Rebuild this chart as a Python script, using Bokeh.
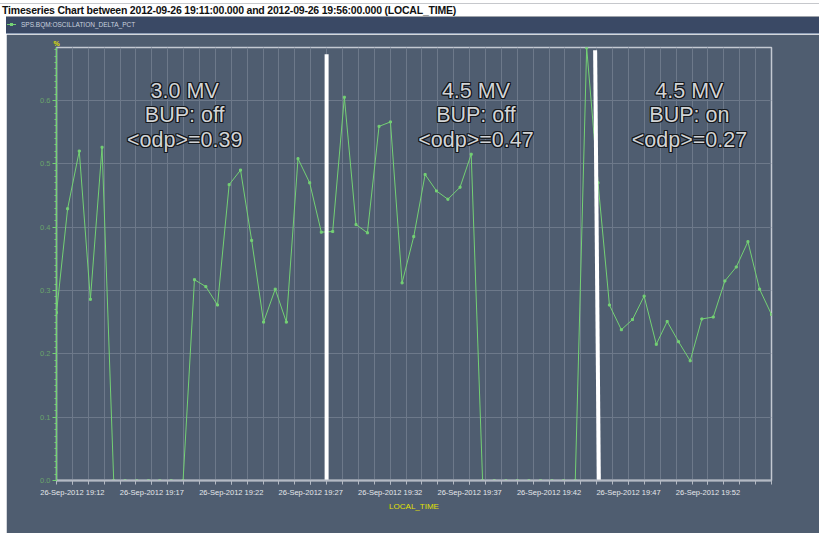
from datetime import datetime
from bokeh.plotting import figure
from bokeh.layouts import column, row
from bokeh.models import (Range1d, FixedTicker, DatetimeTickFormatter, SingleIntervalTicker,
                          ColumnDataSource, NumeralTickFormatter, Div, Spacer, Title)
from bokeh.core.properties import value
from bokeh.embed import file_html
from bokeh.resources import INLINE

DATE = "2012-09-26"
TITLE = "Timeseries Chart between 2012-09-26 19:11:00.000 and 2012-09-26 19:56:00.000 (LOCAL_TIME)"
SERIES = "SPS.BQM:OSCILLATION_DELTA_PCT"

times = ["19:11:00", "19:11:42", "19:12:26", "19:13:08", "19:13:52", "19:14:36", "19:15:19",
         "19:16:03", "19:16:47", "19:17:30", "19:18:13", "19:18:58", "19:19:41", "19:20:24",
         "19:21:08", "19:21:52", "19:22:35", "19:23:17", "19:24:02", "19:24:46", "19:25:28",
         "19:26:12", "19:26:56", "19:27:40", "19:28:23", "19:29:07", "19:29:51", "19:30:34",
         "19:31:18", "19:32:01", "19:32:45", "19:33:29", "19:34:12", "19:34:55", "19:35:38",
         "19:36:24", "19:37:06", "19:37:49", "19:38:33", "19:39:17", "19:40:00", "19:40:44",
         "19:41:28", "19:42:11", "19:42:55", "19:43:39", "19:44:22", "19:45:05", "19:45:48",
         "19:46:33", "19:47:15", "19:47:59", "19:48:45", "19:49:26", "19:50:09", "19:50:53",
         "19:51:37", "19:52:20", "19:53:04", "19:53:47", "19:54:31", "19:55:15", "19:56:00"]
odp = [0.265, 0.429, 0.520, 0.286, 0.526, 0, 0, 0, 0, 0, 0, 0,
       0.317, 0.306, 0.277, 0.467, 0.490, 0.379, 0.250, 0.302, 0.250, 0.508, 0.470,
       0.392, 0.393, 0.605, 0.404, 0.391, 0.559, 0.566, 0.312, 0.385, 0.483, 0.457,
       0.444, 0.463, 0.515, 0, 0, 0, 0, 0, 0, 0, 0, 0,
       0.683, 0.470, 0.277, 0.238, 0.254, 0.291, 0.215, 0.251, 0.219, 0.189, 0.255,
       0.258, 0.315, 0.337, 0.377, 0.302, 0.262]

x_start, x_end = "19:11:00", "19:56:00"
y_start, y_end = 0.0, 0.6835
xtick_labels = ["19:12", "19:17", "19:22", "19:27", "19:32", "19:37", "19:42", "19:47", "19:52"]

# separator bars (bottom time, top time, top value)
bar_bottom_times = ["19:28:00", "19:45:08"]
bar_top_times = ["19:28:00", "19:44:54"]
bar_tops = [0.673, 0.679]

# annotation blocks
note_times = ["19:19:04", "19:37:24", "19:50:50"]
note_texts = [["3.0 MV", "BUP: off", "<odp>=0.39"],
              ["4.5 MV", "BUP: off", "<odp>=0.47"],
              ["4.5 MV", "BUP: on", "<odp>=0.27"]]
note_levels = [0.615, 0.577, 0.538]


def ts(s):
    if len(s) == 5:
        s = s + ":00"
    return datetime.strptime(DATE + " " + s, "%Y-%m-%d %H:%M:%S")


def ms(dt):
    return (dt - datetime(1970, 1, 1)).total_seconds() * 1000.0


BG = "#4f5d70"
GRID = "#6d798a"
GREEN = "#74d174"
YELLOW = "#e0e000"

t0, t1 = ts(x_start), ts(x_end)

# ---------------- header (title bar + legend bar) ----------------
HW, HH = 819, 34
header_html = f"""
<div style="position:relative;width:{HW}px;height:{HH}px;background:#ffffff;overflow:hidden;
            font-family:'Liberation Sans',Arial,sans-serif;">
  <div style="position:absolute;left:0;top:3px;width:{HW}px;height:1px;background:#c6c8cc;"></div>
  <div style="position:absolute;left:2px;top:4px;font-size:10.5px;line-height:12px;font-weight:bold;
              letter-spacing:-0.2px;color:#111111;white-space:nowrap;">{TITLE}</div>
  <div style="position:absolute;left:6px;top:16px;width:{HW - 6}px;height:1px;background:#9ea3aa;"></div>
  <div style="position:absolute;left:6px;top:17px;width:{HW - 6}px;height:16px;background:#3a4965;"></div>
  <div style="position:absolute;left:6px;top:33px;width:{HW - 6}px;height:1px;background:#8e9eb6;"></div>
  <div style="position:absolute;left:7px;top:24px;width:9px;height:1px;background:{GREEN};"></div>
  <div style="position:absolute;left:10px;top:23px;width:3px;height:3px;background:{GREEN};"></div>
  <div style="position:absolute;left:21px;top:20px;font-size:6.5px;line-height:9px;color:#c9d1de;
              white-space:nowrap;">{SERIES}</div>
</div>
"""
header = Div(text=header_html, width=HW, height=HH, margin=0)

# ---------------- main plot ----------------
W, H = 813, 499
BL, BR, BT = 50, 48, 13
FH = 433
BB = H - BT - FH

p = figure(width=W, height=H, x_axis_type="datetime",
           x_range=Range1d(t0, t1), y_range=Range1d(y_start, y_end),
           output_backend="svg", toolbar_location=None,
           min_border_left=BL, min_border_right=BR, min_border_top=BT, min_border_bottom=BB,
           background_fill_color=BG, border_fill_color=BG, margin=0)

p.title = Title(text="%", align="left", offset=-3, standoff=1, text_color=YELLOW,
                text_font="Liberation Sans", text_font_size="7px", text_font_style="bold")

major = [ms(ts(s)) for s in xtick_labels]
minor = [ms(t0) + 60000.0 * i for i in range(0, 46)]
xticker = FixedTicker(ticks=major, minor_ticks=minor)
p.xaxis.ticker = xticker
p.xgrid.ticker = xticker
fmt = "%d-%b-%Y %H:%M"
p.xaxis.formatter = DatetimeTickFormatter(seconds=fmt, minsec=fmt, minutes=fmt, hourmin=fmt,
                                          hours=fmt, days=fmt, months=fmt, years=fmt)
p.xaxis.axis_label = "LOCAL_TIME"
p.xaxis.axis_label_text_color = YELLOW
p.xaxis.axis_label_text_font = "Liberation Sans"
p.xaxis.axis_label_text_font_size = "8px"
p.xaxis.axis_label_text_font_style = "normal"
p.xaxis.axis_label_standoff = 2
p.xaxis.axis_line_color = "#b4bac4"
p.xaxis.axis_line_width = 2
p.xaxis.major_tick_line_color = "#b4bac4"
p.xaxis.minor_tick_line_color = "#b4bac4"
p.xaxis.major_tick_in = 0
p.xaxis.major_tick_out = 4
p.xaxis.minor_tick_in = 0
p.xaxis.minor_tick_out = 4
p.xaxis.major_label_text_font = "Liberation Sans"
p.xaxis.major_label_text_font_size = "7.5px"
p.xaxis.major_label_text_color = "#e4e6ea"
p.xaxis.major_label_standoff = 3

yticker = SingleIntervalTicker(interval=0.1, num_minor_ticks=10)
p.yaxis.ticker = yticker
p.ygrid.ticker = yticker
p.yaxis.formatter = NumeralTickFormatter(format="0.0")
p.yaxis.axis_line_color = GREEN
p.yaxis.axis_line_width = 1.2
p.yaxis.major_tick_line_color = GREEN
p.yaxis.minor_tick_line_color = GREEN
p.yaxis.major_tick_in = 0
p.yaxis.major_tick_out = 4
p.yaxis.minor_tick_in = 0
p.yaxis.minor_tick_out = 2
p.yaxis.major_label_text_font = "Liberation Sans"
p.yaxis.major_label_text_font_size = "7.5px"
p.yaxis.major_label_text_color = "#6aa46c"
p.yaxis.major_label_standoff = 2

p.xgrid.grid_line_color = GRID
p.xgrid.minor_grid_line_color = GRID
p.ygrid.grid_line_color = GRID
p.outline_line_color = "#c4c9d2"
p.outline_line_width = 1.5

# ---- data ----
src = ColumnDataSource(dict(t=[ts(s) for s in times], v=odp))
p.line("t", "v", source=src, line_color=GREEN, line_width=1)
p.scatter("t", "v", source=src, marker="square", size=2, color=GREEN)

p.segment(x0=[ts(s) for s in bar_bottom_times], y0=[0, 0],
          x1=[ts(s) for s in bar_top_times], y1=bar_tops,
          line_color="white", line_width=4)

nx, ny, nt = [], [], []
for tstr, lines in zip(note_times, note_texts):
    for lvl, txt in zip(note_levels, lines):
        nx.append(ts(tstr))
        ny.append(lvl)
        nt.append(txt)
nsrc = ColumnDataSource(dict(x=nx, y=ny, text=nt))
for dx, dy in [(-1, -1), (-1, 0), (-1, 1), (0, -1), (0, 1), (1, -1), (1, 0), (1, 1)]:
    p.text("x", "y", text="text", source=nsrc, x_offset=dx, y_offset=dy,
           text_font=value("Liberation Sans"), text_font_size="21.5px",
           text_align="center", text_baseline="middle", text_color="#15181c")
p.text("x", "y", text="text", source=nsrc,
       text_font=value("Liberation Sans"), text_font_size="21.5px",
       text_align="center", text_baseline="middle", text_color="#d2d4d6")

layout = column(header, row(Spacer(width=6, height=H, margin=0), p, spacing=0), spacing=0)
open("out.html", "w").write(file_html(layout, INLINE))
